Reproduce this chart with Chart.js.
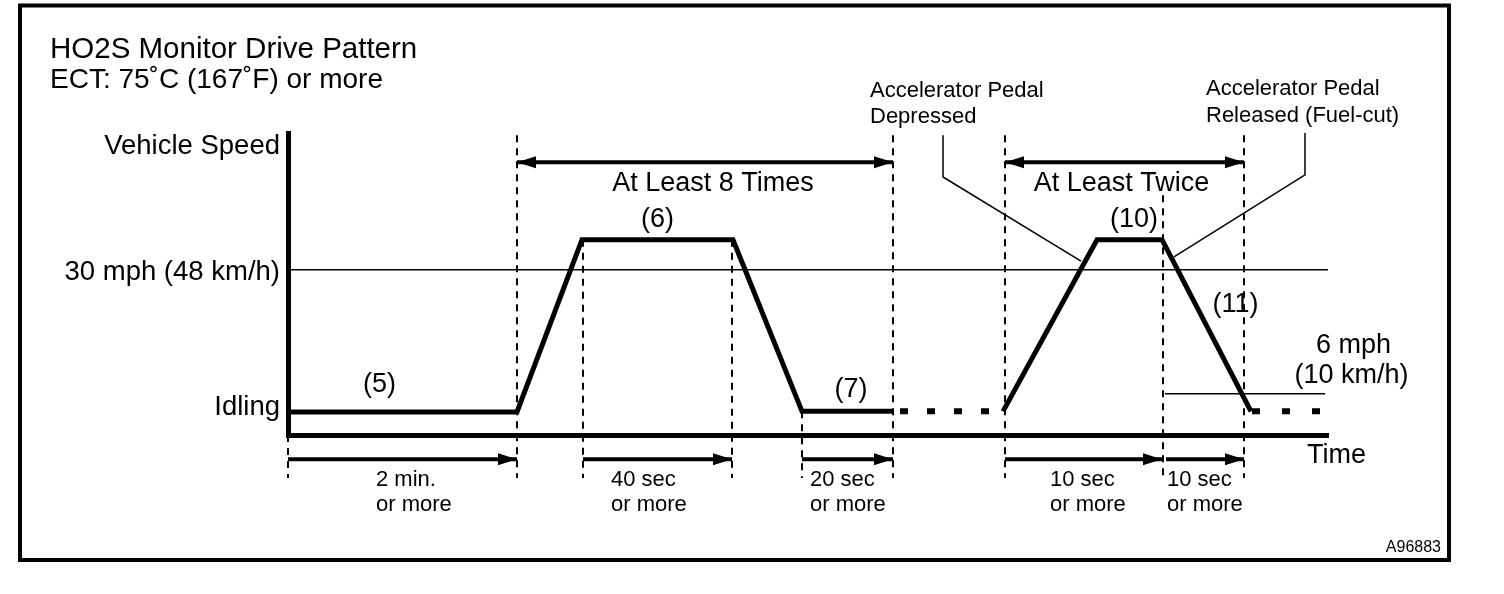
<!DOCTYPE html>
<html>
<head>
<meta charset="utf-8">
<title>HO2S Monitor Drive Pattern</title>
<script src="https://cdn.jsdelivr.net/npm/chart.js@4.4.1/dist/chart.umd.min.js"></script>
<style>
  html, body { margin: 0; padding: 0; background: #fff; }
  #wrap { width: 1504px; height: 594px; }
</style>
</head>
<body>
<div id="wrap"><canvas id="driveChart" width="1504" height="594"></canvas></div>
<script>
// schematic diagram: time runs 0..104 units, speed in "mph-ish" units (30 = the 30 mph line)
const titleLines = ['HO2S Monitor Drive Pattern', 'ECT: 75˚C (167˚F) or more'];
const figureCode = 'A96883';

const yTickValues = [5.3, 30, 52.9];
const yTickLabels = ['Idling', '30 mph (48 km/h)', 'Vehicle Speed'];

// speed trace, segments 5 and 9 are the dotted "repeat" parts
const speedTime  = [0, 22.9, 29.4, 44.5, 51.4, 60.5, 71.5, 80.9, 87.4, 96.3, 103.4];
const speedValue = [4.2, 4.2, 35.5, 35.5, 4.3, 4.3, 4.3, 35.5, 35.5, 4.3, 4.3];
const dottedSegments = [5, 9];

// dashed vertical guides
const guideTime = [0, 22.9, 29.5, 44.4, 51.4, 60.5, 71.7, 87.5, 95.6];
const guideTop  = [0, 54.5, 35.5, 35.5, 4.3, 54.5, 54.5, 43.6, 54.5];
const guideBottom = -7.8;

// "at least" spans (double arrows)
const spanStart  = [22.9, 71.7];
const spanEnd    = [60.5, 95.6];
const spanLevel  = 49.6;
const spanLabels = ['At Least 8 Times', 'At Least Twice'];
const spanLabelTime = [42.5, 83.35];
const spanLabelLevel = 44.4;

// durations under the time axis
const durStart  = [0, 29.5, 51.4, 71.7, 87.8];
const durEnd    = [22.9, 44.4, 60.5, 87.4, 95.6];
const durLevel  = -4.4;
const durLabels = ['2 min.', '40 sec', '20 sec', '10 sec', '10 sec'];
const durLabelTime = [8.8, 32.3, 52.2, 76.2, 87.9];

// step numbers
const stepLabels = ['(5)', '(6)', '(7)', '(10)', '(11)'];
const stepTime   = [9.15, 36.95, 56.3, 84.6, 94.75];
const stepLevel  = [7.8, 37.8, 6.9, 37.8, 22.4];

// 6 mph threshold
const sixMphTime = [87.7, 103.7];
const sixMphLevel = 7.5;

// pedal callouts
const calloutTime  = [[65.5, 65.5, 79.3], [101.7, 101.7, 88.6]];
const calloutLevel = [[54.5, 46.9, 31.6], [54.9, 47.3, 32.4]];
const calloutText  = [['Accelerator Pedal', 'Depressed'], ['Accelerator Pedal', 'Released (Fuel-cut)']];
const calloutTextTime  = [58.2, 91.8];
const calloutTextLevel = [[61.45, 56.7], [61.8, 56.9]];

const FONT = '"Liberation Sans", Arial, Helvetica, sans-serif';

function pairs(starts, ends, level) {
    const out = [];
    starts.forEach((s, i) => {
        out.push({ x: s, y: level }, { x: ends[i], y: level }, { x: ends[i], y: null });
    });
    return out;
}

const speedData = speedTime.map((t, i) => ({ x: t, y: speedValue[i] }));
const guideData = [];
guideTime.forEach((t, i) => {
    guideData.push({ x: t, y: guideTop[i] }, { x: t, y: guideBottom }, { x: t, y: null });
});
const calloutData = [];
calloutTime.forEach((ts, i) => {
    ts.forEach((t, j) => calloutData.push({ x: t, y: calloutLevel[i][j] }));
    calloutData.push({ x: ts[ts.length - 1], y: null });
});

const base = { pointRadius: 0, borderColor: '#000', tension: 0, clip: false, fill: false };

const arrowPlugin = {
    id: 'arrowHeads',
    afterDatasetsDraw(chart) {
        const ctx = chart.ctx;
        const xs = chart.scales.x, ys = chart.scales.y;
        chart.data.datasets.forEach(ds => {
            if (!ds.arrowHeads) return;
            let run = [];
            const flush = () => {
                if (run.length >= 2) {
                    const a = run[0], b = run[run.length - 1];
                    drawHead(ctx, b, a);
                    if (ds.arrowHeads === 'both') drawHead(ctx, a, b);
                }
                run = [];
            };
            ds.data.forEach(p => {
                if (p.y === null) flush();
                else run.push({ x: xs.getPixelForValue(p.x), y: ys.getPixelForValue(p.y) });
            });
            flush();
        });
    }
};

function drawHead(ctx, tip, from) {
    const len = 19, half = 6;
    const ang = Math.atan2(tip.y - from.y, tip.x - from.x);
    const bx = tip.x - len * Math.cos(ang), by = tip.y - len * Math.sin(ang);
    ctx.save();
    ctx.fillStyle = '#000';
    ctx.beginPath();
    ctx.moveTo(tip.x, tip.y);
    ctx.lineTo(bx + half * Math.sin(ang), by - half * Math.cos(ang));
    ctx.lineTo(bx - half * Math.sin(ang), by + half * Math.cos(ang));
    ctx.closePath();
    ctx.fill();
    ctx.restore();
}

const textPlugin = {
    id: 'diagramText',
    afterDraw(chart) {
        const { ctx } = chart;
        const px = v => chart.scales.x.getPixelForValue(v);
        const py = v => chart.scales.y.getPixelForValue(v);
        ctx.save();
        ctx.strokeStyle = '#000';
        ctx.lineWidth = 4;
        ctx.strokeRect(20, 5.5, 1429, 554.5);

        ctx.fillStyle = '#000';
        ctx.textBaseline = 'alphabetic';
        ctx.textAlign = 'left';
        ctx.font = `29.5px ${FONT}`;
        ctx.fillText(titleLines[0], 50, 58);
        ctx.font = `28px ${FONT}`;
        ctx.fillText(titleLines[1], 50, 88);

        ctx.font = `27px ${FONT}`;
        ctx.textAlign = 'center';
        spanLabels.forEach((t, i) => ctx.fillText(t, px(spanLabelTime[i]), py(spanLabelLevel)));
        stepLabels.forEach((t, i) => ctx.fillText(t, px(stepTime[i]), py(stepLevel[i])));
        ctx.fillText('6 mph', px(106.55), py(14.9));
        ctx.fillText('(10 km/h)', px(106.35), py(9.45));
        ctx.textAlign = 'left';
        ctx.fillText('Time', px(101.9), py(-5.1));

        ctx.font = `22px ${FONT}`;
        durLabels.forEach((t, i) => {
            ctx.fillText(t, px(durLabelTime[i]), py(-9.3));
            ctx.fillText('or more', px(durLabelTime[i]), py(-13.8));
        });
        calloutText.forEach((lines, i) => {
            lines.forEach((t, j) => ctx.fillText(t, px(calloutTextTime[i]), py(calloutTextLevel[i][j])));
        });

        ctx.font = `16px ${FONT}`;
        ctx.textAlign = 'right';
        ctx.fillText(figureCode, 1441, 552);
        ctx.restore();
    }
};

new Chart(document.getElementById('driveChart'), {
    type: 'line',
    data: {
        datasets: [
            {
                ...base, label: 'Vehicle speed', data: speedData, borderWidth: 5,
                borderJoinStyle: 'miter',
                segment: {
                    borderDash: c => c.p0DataIndex === 5 ? [8, 19] : c.p0DataIndex === 9 ? [8, 22] : undefined,
                    borderDashOffset: c => c.p0DataIndex === 5 ? 20 : c.p0DataIndex === 9 ? 29 : 0,
                    borderWidth: c => dottedSegments.includes(c.p0DataIndex) ? 6 : 5
                }
            },
            { ...base, label: 'Guides', data: guideData, borderWidth: 2, borderDash: [7, 6] },
            { ...base, label: 'Spans', data: pairs(spanStart, spanEnd, spanLevel), borderWidth: 4, arrowHeads: 'both' },
            { ...base, label: 'Durations', data: pairs(durStart, durEnd, durLevel), borderWidth: 4, arrowHeads: 'end' },
            { ...base, label: '6 mph', data: sixMphTime.map(t => ({ x: t, y: sixMphLevel })), borderWidth: 1.5 },
            { ...base, label: 'Callouts', data: calloutData, borderWidth: 1.5 }
        ]
    },
    options: {
        responsive: false,
        devicePixelRatio: 1,
        animation: false,
        events: [],
        layout: { padding: { left: 20, right: 176, top: 133, bottom: 159 } },
        plugins: { legend: { display: false }, tooltip: { enabled: false } },
        scales: {
            x: {
                type: 'linear', min: 0, max: 104,
                ticks: { display: false },
                grid: { display: false },
                border: { display: true, color: '#000', width: 5 },
                afterFit: s => { s.height = 0; }
            },
            y: {
                type: 'linear', min: 0, max: 54.9,
                afterBuildTicks: s => { s.ticks = yTickValues.map(v => ({ value: v })); },
                afterFit: s => { s.width = 268; },
                ticks: {
                    autoSkip: false,
                    padding: 8,
                    labelOffset: 2,
                    color: '#000',
                    font: { family: FONT, size: 27.5 },
                    callback: v => yTickLabels[yTickValues.indexOf(v)]
                },
                grid: {
                    drawTicks: false,
                    lineWidth: 1.5,
                    color: c => (c.tick && c.tick.value === 30) ? '#000' : 'rgba(0,0,0,0)'
                },
                border: { display: true, color: '#000', width: 5 }
            }
        }
    },
    plugins: [arrowPlugin, textPlugin]
});
</script>
</body>
</html>
